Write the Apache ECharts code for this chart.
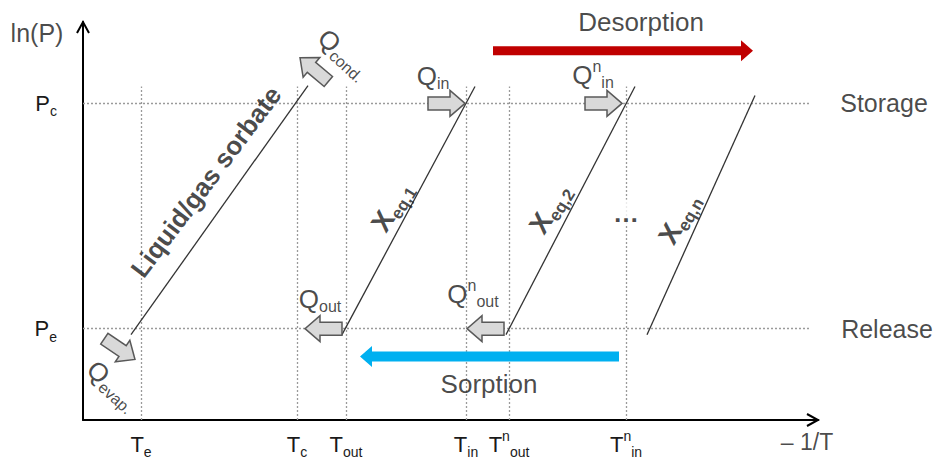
<!DOCTYPE html>
<html><head><meta charset="utf-8">
<script src="https://cdn.jsdelivr.net/npm/echarts@6/dist/echarts.min.js"></script>
<style>html,body{margin:0;padding:0;background:#fff}#c{width:938px;height:459px}</style>
</head><body><div id="c"></div>
<script>
// Schematic units: x along the "-1/T" axis, y along the "ln(P)" axis
const xMax = 735, yMax = 401;
const xTickSup = ['', '', '', '', 'n', 'n'];
const xTickSub = ['e', 'c', 'out', 'in', 'out', 'in'];
const xTickValues = [58, 214, 263, 383, 426, 543];
const yTickSub = ['e', 'c'];
const yTickValues = [92, 319];
const guideTop = 336;     // vertical dotted guides end here
const guideRight = 727;   // horizontal dotted guides end here

// equilibrium lines (isosteres)
const isoMain = ['Liquid/gas sorbate', 'X', 'X', 'X'];
const isoSub = ['', 'eq,1', 'eq,2', 'eq,n'];
const isoStart = [[48, 86], [259, 86], [423, 86], [564, 86]];
const isoEnd = [[225, 337], [392, 336], [552, 336], [672, 327]];
const isoLabelX = [123, 309, 467, 596];
const isoLabelY = [240, 215, 213, 203];
const isoLabelRot = [53, 58, 58, 60];

// heat-flow block arrows
const heatSup = ['', '', 'n', '', '', 'n'];
const heatSub = ['cond.', 'in', 'in', 'evap.', 'out', 'out'];
const heatTipX = [217, 382, 539, 52, 222, 384];
const heatTipY = [365, 319, 319, 61, 92, 92];
const heatDir = [140, 0, 0, -34, 180, 180];
const heatLabelX = [261, 350, 510, 30, 237, 390];
const heatLabelY = [369, 347, 348, 35, 122, 127];
const heatLabelRot = [-42, 0, 0, -42, 0, 0];

// process arrows
const processNames = ['Desorption', 'Sorption'];
const processFrom = [410, 536];
const processTo = [670, 277];
const processY = [372, 64];
const processLabelX = [558, 406];
const processLabelY = [401, 36];
const processColors = ['#c00000', '#00b0f0'];

// other notes
const noteTexts = ['ln(P)', '\u2013 1/T', 'Storage', 'Release', '\u2026'];
const noteX = [-46, 724, 801, 804, 543];
const noteY = [390, -22, 319, 92, 209];

const FONT = "'Liberation Sans', Arial, sans-serif";
const TXT = '#1a1a1a';
const rich = {
  m: {fontSize: 22, lineHeight: 30, fontFamily: FONT, color: TXT},
  s: {fontSize: 14, lineHeight: 15, fontFamily: FONT, color: TXT, verticalAlign: 'bottom'},
  p: {fontSize: 14, lineHeight: 15, fontFamily: FONT, color: TXT, verticalAlign: 'top'},
  Q: {fontSize: 26, lineHeight: 32, fontFamily: FONT, color: TXT},
  qs: {fontSize: 16, lineHeight: 17, fontFamily: FONT, color: TXT, verticalAlign: 'bottom'},
  qp: {fontSize: 16, lineHeight: 17, fontFamily: FONT, color: TXT, verticalAlign: 'top'},
  X: {fontSize: 28, lineHeight: 34, fontWeight: 'bold', fontFamily: FONT, color: TXT},
  xs: {fontSize: 17, lineHeight: 18, fontWeight: 'bold', fontFamily: FONT, color: TXT, verticalAlign: 'bottom'},
  L: {fontSize: 26, lineHeight: 30, fontWeight: 'bold', fontFamily: FONT, color: TXT}
};

function tag(style, t) { return t ? '{' + style + '|' + t + '}' : ''; }

const guideCoords = [];
xTickValues.forEach(v => guideCoords.push({coords: [[v, 0], [v, guideTop]]}));
yTickValues.forEach(v => guideCoords.push({coords: [[0, v], [guideRight, v]]}));

const isoLines = isoStart.map((s, i) => ({coords: [s, isoEnd[i]]}));

const labelData = [];
isoMain.forEach((m, i) => labelData.push({
  value: [isoLabelX[i], isoLabelY[i]],
  label: {rotate: isoLabelRot[i], formatter: i === 0 ? tag('L', m) : tag('X', m) + tag('xs', isoSub[i])}
}));
heatSub.forEach((s, i) => labelData.push({
  value: [heatLabelX[i], heatLabelY[i]],
  label: {rotate: heatLabelRot[i], formatter: tag('Q', 'Q') + tag('qp', heatSup[i]) + tag('qs', s)}
}));
processNames.forEach((n, i) => labelData.push({
  value: [processLabelX[i], processLabelY[i]],
  label: {formatter: n, fontSize: 26}
}));
noteTexts.forEach((n, i) => labelData.push({
  value: [noteX[i], noteY[i]],
  label: i === 4
    ? {formatter: n, fontSize: 26, fontWeight: 'bold', backgroundColor: '#fff', padding: [0, 1, 0, 1]}
    : {formatter: n, fontSize: i === 1 ? 23 : 25}
}));

function arrowPoly(cx, cy, angDeg, L, hl, hh, sh) {
  const a = angDeg * Math.PI / 180, c = Math.cos(a), s = -Math.sin(a);
  const local = [[0, 0], [-hl, -hh], [-hl, -sh], [-L, -sh], [-L, sh], [-hl, sh], [-hl, hh]];
  return local.map(([u, v]) => [cx + u * c - v * s, cy + u * s + v * c]);
}

const option = {
  animation: false,
  backgroundColor: '#fff',
  grid: {left: 83, right: 120, top: 22, bottom: 36, containLabel: false},
  xAxis: {
    type: 'value', min: 0, max: xMax,
    splitLine: {show: false}, axisTick: {show: false},
    axisLine: {show: true, lineStyle: {color: '#000', width: 2}},
    axisLabel: {
      customValues: xTickValues, margin: 9,
      formatter: v => { const i = xTickValues.indexOf(v); return tag('m', 'T') + tag('p', xTickSup[i]) + tag('s', xTickSub[i]); },
      rich: rich
    }
  },
  yAxis: {
    type: 'value', min: 0, max: yMax,
    splitLine: {show: false}, axisTick: {show: false},
    axisLine: {show: true, lineStyle: {color: '#000', width: 2}},
    axisLabel: {
      customValues: yTickValues, margin: 26,
      formatter: v => { const i = yTickValues.indexOf(v); return tag('m', 'P') + tag('s', yTickSub[i]); },
      rich: rich
    }
  },
  series: [
    {
      type: 'lines', coordinateSystem: 'cartesian2d', silent: true, z: 1,
      lineStyle: {color: '#9a9a9a', width: 1.3, type: [2, 2], opacity: 1},
      data: guideCoords
    },
    {
      type: 'lines', coordinateSystem: 'cartesian2d', silent: true, z: 2,
      lineStyle: {color: '#333', width: 1.3, opacity: 1},
      data: isoLines
    },
    {
      type: 'custom', coordinateSystem: 'cartesian2d', silent: true, clip: false, z: 3,
      data: heatTipX.map((x, i) => [x, heatTipY[i], heatDir[i]]),
      renderItem: (params, api) => {
        const p = api.coord([api.value(0), api.value(1)]);
        return {type: 'polygon', shape: {points: arrowPoly(p[0], p[1], api.value(2), 37, 15, 13, 6.5)},
          style: {fill: '#d9d9d9', stroke: '#595959', lineWidth: 1.5}};
      }
    },
    {
      type: 'custom', coordinateSystem: 'cartesian2d', silent: true, clip: false, z: 3,
      data: processFrom.map((f, i) => [f, processTo[i], processY[i], i]),
      renderItem: (params, api) => {
        const p1 = api.coord([api.value(0), api.value(2)]);
        const p2 = api.coord([api.value(1), api.value(2)]);
        const ang = p2[0] > p1[0] ? 0 : 180;
        const L = Math.abs(p2[0] - p1[0]);
        const idx = api.value(3);
        return {type: 'polygon', shape: {points: arrowPoly(p2[0], p2[1], ang, L, 12, 10.5, idx === 0 ? 4.5 : 5)},
          style: {fill: processColors[idx]}};
      }
    },
    {
      type: 'custom', coordinateSystem: 'cartesian2d', silent: true, clip: false, z: 4,
      data: [[0, yMax, 90], [xMax, 0, 0]],
      renderItem: (params, api) => {
        const p = api.coord([api.value(0), api.value(1)]);
        const a = api.value(2) * Math.PI / 180, c = Math.cos(a), s = -Math.sin(a);
        const pt = (u, v) => [p[0] + u * c - v * s, p[1] + u * s + v * c];
        return {type: 'polyline', shape: {points: [pt(-11, -6), pt(0, 0), pt(-11, 6)]},
          style: {stroke: '#000', lineWidth: 2, fill: null}};
      }
    },
    {
      type: 'scatter', silent: true, clip: false, z: 5, symbolSize: 1,
      itemStyle: {color: 'rgba(0,0,0,0)'},
      label: {show: true, position: 'inside', color: TXT, fontFamily: FONT, rich: rich},
      data: labelData
    }
  ]
};
const chart = echarts.init(document.getElementById('c'), null, {renderer: 'svg'});
chart.setOption(option);
</script>
</body></html>
